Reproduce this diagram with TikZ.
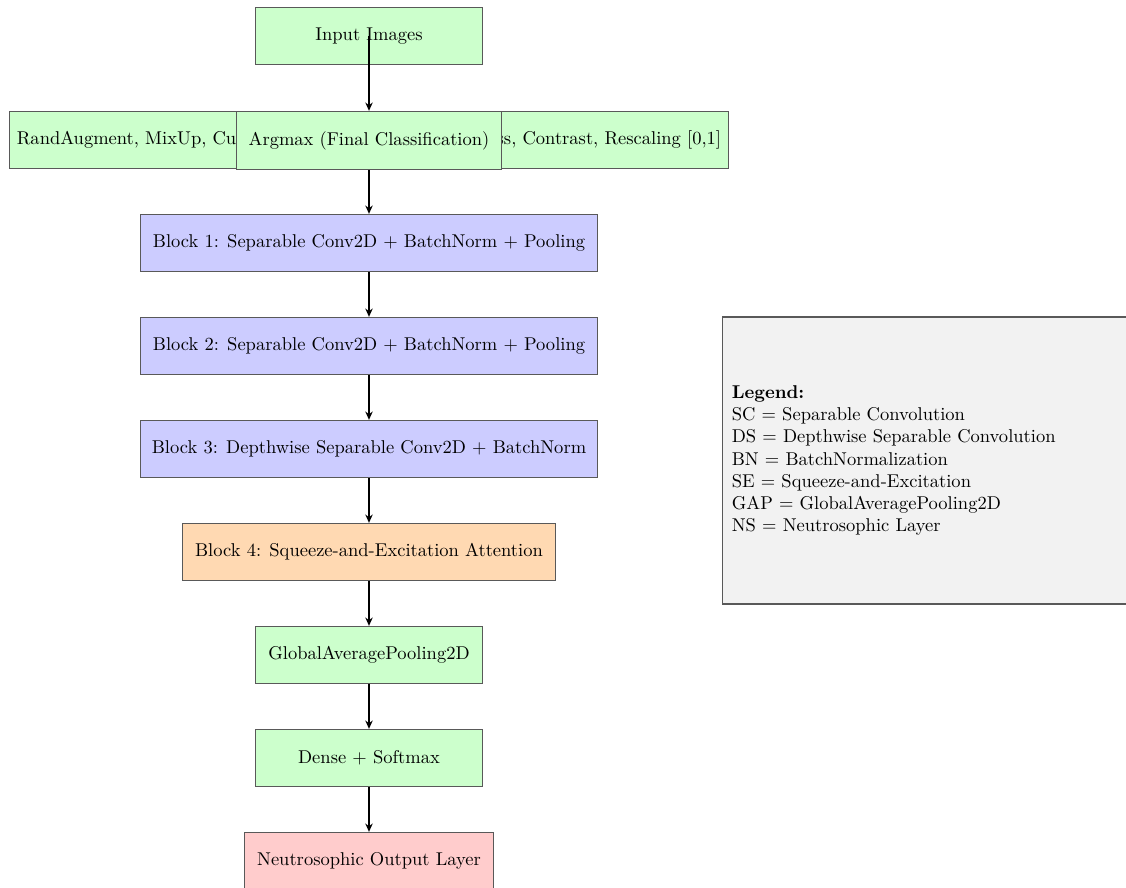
\documentclass[tikz,border=0pt]{standalone}
\usetikzlibrary{arrows.meta}
\begin{document}
\begin{tikzpicture}[x=0.54pt,y=-0.54pt,
  box/.style={draw=black!65, line width=0.5pt, align=center, inner sep=2pt},
  greenbox/.style={box, fill=green!20},
  bluebox/.style={box, fill=blue!20},
  orangebox/.style={box, fill=orange!30},
  redbox/.style={box, fill=red!20},
  flow/.style={-{Stealth[length=4.5pt,width=4pt]}, line width=0.6pt, black}
]
\useasboundingbox (0,0) rectangle (1126,888);
\node[greenbox, minimum width=123pt, minimum height=30.5pt] (input) at (369,36) {Input Images};
\node[greenbox, minimum width=388pt, minimum height=31pt] (aug) at (369,140) {RandAugment, MixUp, CutMix, Rotation, Zoom, Brightness, Contrast, Rescaling [0,1]};
\node[greenbox, minimum width=143.5pt, minimum height=31.5pt] (argmax) at (369,140.5) {Argmax (Final Classification)};
\node[bluebox, minimum width=247pt, minimum height=31pt] (b1) at (369,243) {Block 1: Separable Conv2D + BatchNorm + Pooling};
\node[bluebox, minimum width=247pt, minimum height=31pt] (b2) at (369,346) {Block 2: Separable Conv2D + BatchNorm + Pooling};
\node[bluebox, minimum width=247pt, minimum height=31pt] (b3) at (369,449) {Block 3: Depthwise Separable Conv2D + BatchNorm};
\node[orangebox, minimum width=201.5pt, minimum height=31pt] (b4) at (369,552) {Block 4: Squeeze-and-Excitation Attention};
\node[greenbox, minimum width=123pt, minimum height=31pt] (gap) at (369,655) {GlobalAveragePooling2D};
\node[greenbox, minimum width=123pt, minimum height=31pt] (dense) at (369,758) {Dense + Softmax};
\node[redbox, minimum width=134pt, minimum height=31pt] (ns) at (369,861) {Neutrosophic Output Layer};
\node[draw=black!65, line width=0.6pt, fill=gray!10, align=left, anchor=west, inner sep=3.5pt,
      minimum width=260pt, minimum height=155pt, text width=250pt] (legend) at (722,460.5)
  {\textbf{Legend:}\\
   SC = Separable Convolution\\
   DS = Depthwise Separable Convolution\\
   BN = BatchNormalization\\
   SE = Squeeze-and-Excitation\\
   GAP = GlobalAveragePooling2D\\
   NS = Neutrosophic Layer};
\draw[flow] (input.center) -- (aug.north);
\draw[flow] (argmax.south) -- (b1.north);
\draw[flow] (b1) -- (b2);
\draw[flow] (b2) -- (b3);
\draw[flow] (b3) -- (b4);
\draw[flow] (b4) -- (gap);
\draw[flow] (gap) -- (dense);
\draw[flow] (dense) -- (ns);
\end{tikzpicture}
\end{document}
